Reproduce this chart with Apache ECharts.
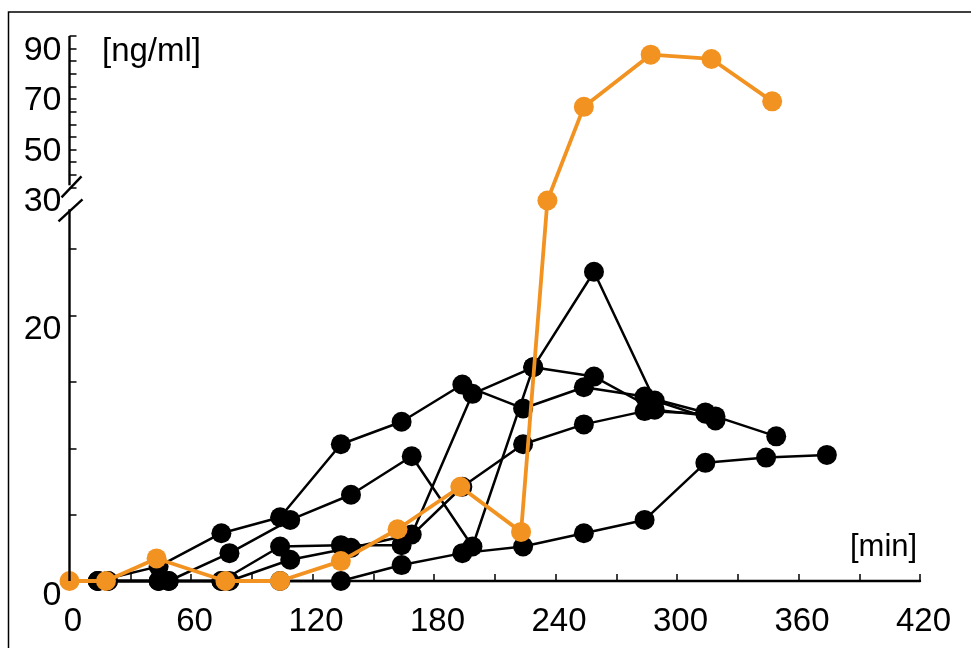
<!DOCTYPE html>
<html>
<head>
<meta charset="utf-8">
<script src="https://cdn.jsdelivr.net/npm/echarts@6/dist/echarts.min.js"></script>
<style>
  html, body { margin: 0; padding: 0; background: #fff; }
  #chart { width: 971px; height: 648px; }
</style>
</head>
<body>
<div id="chart"></div>
<script>
// sampling times [min]
var timesA = [14, 44, 75, 104, 134, 164, 194, 224, 254, 284, 314, 344, 374]
var timesB = [19, 49, 79, 109, 139, 169, 199, 229, 259, 289, 319, 349]
var timesOrange = [0, 18, 43, 77, 104, 134, 162, 193, 223, 236, 254, 287, 317, 347]

// concentrations [ng/ml]
var subjA1 = [0, 1.1, 3.6, 4.8, 10.3, 12.0, 14.8, 13.0, 14.6, 13.9, 12.7]
var subjA2 = [0, 0, 0, 2.6, 2.7, 2.7, 7.1, 10.3, 11.8, 12.8, 12.6]
var subjA3 = [0, 0, 0, 0, 0, 1.2, 2.1, 2.6, 3.6, 4.6, 8.9, 9.3, 9.5]
var subjB1 = [0, 0, 2.1, 4.6, 6.5, 9.4, 2.6, 16.1, 15.4, 12.9, 12.4, 10.9]
var subjB2 = [0, 0, 0, 1.6, 2.5, 3.5, 14.1, 16.1, 23.3, 13.6, 12.1]
var orangeSubj = [0, 0, 1.7, 0, 0, 1.5, 3.9, 7.1, 3.7, 28.8, 61.9, 82.6, 80.9, 64.1]

// axis ticks / labels
var xLabels = [0, 60, 120, 180, 240, 300, 360, 420]
var yLabels = [0, 20, 30, 50, 70, 90]
var yTicks = [0, 5, 10, 15, 20, 25, 30, 35, 40, 45, 50, 55, 60, 65, 70, 75, 80, 85, 90]

// broken y axis: 0..28 linear, 30..90 compressed
var BREAK_LO = 28
var BREAK_HI = 30
var UP_BASE = 29.66
var UP_SCALE = 0.19
function toAxis(v) {
  if (v <= BREAK_LO) return v
  if (v >= BREAK_HI) return UP_BASE + (v - BREAK_HI) * UP_SCALE
  return BREAK_LO + (v - BREAK_LO) * (UP_BASE - BREAK_LO) / (BREAK_HI - BREAK_LO)
}

var FONT = "'Liberation Sans', Arial, sans-serif"
var ORANGE = '#f29220'

function pairs(times, values) {
  return values.map(function (v, i) { return [times[i], toAxis(v)] })
}

function blackSeries(times, values) {
  return {
    type: 'line',
    data: pairs(times, values),
    symbol: 'circle',
    symbolSize: 20,
    clip: false,
    z: 2,
    lineStyle: { color: '#000', width: 2.5 },
    itemStyle: { color: '#000' }
  }
}

var chart = echarts.init(document.getElementById('chart'))

var option = {
  animation: false,
  backgroundColor: '#fff',
  textStyle: { fontFamily: FONT },
  grid: { left: 69.5, right: 51, top: 36, bottom: 67 },
  xAxis: {
    type: 'value',
    min: 0,
    max: 420,
    interval: 30,
    splitLine: { show: false },
    axisLine: { show: true, onZero: false, lineStyle: { color: '#000', width: 2.4 } },
    axisTick: { show: true, inside: true, length: 7, lineStyle: { color: '#000', width: 1.5 } },
    axisLabel: {
      customValues: xLabels,
      color: '#000',
      fontSize: 33,
      fontFamily: FONT,
      margin: 24,
      padding: [0, 0, 0, 7]
    }
  },
  yAxis: {
    type: 'value',
    min: 0,
    max: toAxis(90),
    splitLine: { show: false },
    axisLine: { show: false },
    axisTick: {
      show: true,
      inside: true,
      length: 7,
      customValues: yTicks.map(toAxis),
      lineStyle: { color: '#000', width: 1.5 }
    },
    axisLabel: {
      customValues: yLabels.map(toAxis),
      color: '#000',
      fontSize: 34,
      lineHeight: 29,
      verticalAlign: 'top',
      fontFamily: FONT,
      margin: 8,
      formatter: function (t) {
        for (var i = 0; i < yLabels.length; i++) {
          if (Math.abs(toAxis(yLabels[i]) - t) < 1e-6) return String(yLabels[i])
        }
        return ''
      }
    }
  },
  series: [
    blackSeries(timesA, subjA1),
    blackSeries(timesA, subjA2),
    blackSeries(timesA, subjA3),
    blackSeries(timesB, subjB1),
    blackSeries(timesB, subjB2),
    {
      type: 'line',
      data: pairs(timesOrange, orangeSubj),
      symbol: 'circle',
      symbolSize: 20,
      clip: false,
      z: 5,
      lineStyle: { color: ORANGE, width: 3.8 },
      itemStyle: { color: ORANGE }
    }
  ]
}
chart.setOption(option)

// broken axis line + frame + unit labels
function px(x, v) {
  return chart.convertToPixel({ gridIndex: 0 }, [x, toAxis(v)])
}
var lowBot = px(0, 0)
var lowTop = px(0, BREAK_LO)
var upBot = px(0, BREAK_HI)
var upTop = px(0, 90)
var ax = lowBot[0]
var axisStyle = { stroke: '#000', lineWidth: 2.4 }

chart.setOption({
  graphic: [
    { type: 'rect', shape: { x: 8.5, y: 12, width: 1200, height: 1000 }, style: { fill: 'none', stroke: '#000', lineWidth: 1.5 }, z: 0 },
    { type: 'line', shape: { x1: ax, y1: lowBot[1], x2: ax, y2: lowTop[1] }, style: axisStyle, z: 10 },
    { type: 'line', shape: { x1: ax, y1: upBot[1] - 2, x2: ax, y2: upTop[1] }, style: axisStyle, z: 10 },
    { type: 'line', shape: { x1: ax - 11, y1: lowTop[1] + 12, x2: ax + 13, y2: lowTop[1] - 10 }, style: axisStyle, z: 10 },
    { type: 'line', shape: { x1: ax - 8, y1: upBot[1] + 10, x2: ax + 12, y2: upBot[1] - 11 }, style: axisStyle, z: 10 },
    { type: 'text', left: 102, top: 35, style: { text: '[ng/ml]', font: '33px ' + FONT, fill: '#000' }, z: 10 },
    { type: 'text', left: 850, top: 532, style: { text: '[min]', font: '31px ' + FONT, fill: '#000' }, z: 10 }
  ]
})
</script>
</body>
</html>
